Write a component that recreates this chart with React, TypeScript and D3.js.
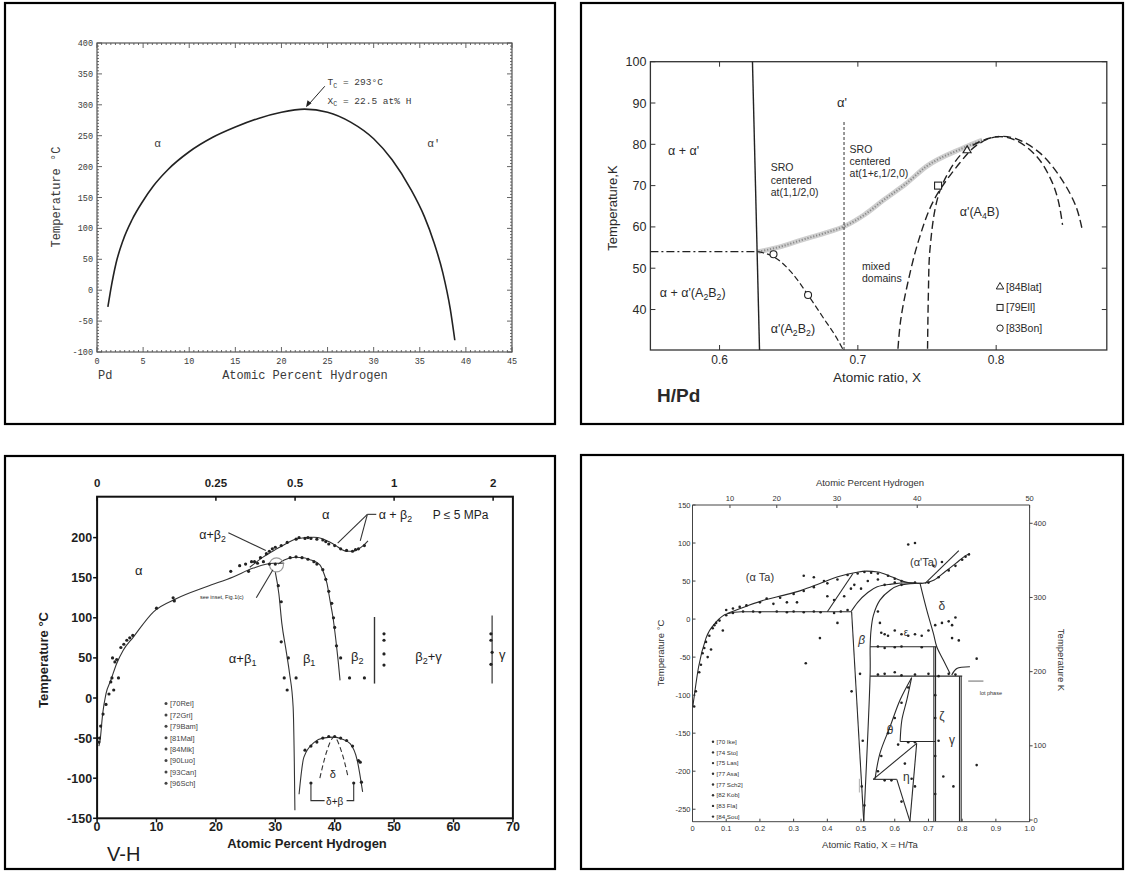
import React from 'react';
import * as d3 from 'd3';

// ---------- panel 1 : Pd-H miscibility gap ----------
const pdGapX = [1.18, 1.48, 2.07, 2.83, 3.8, 4.97, 6.13, 7.68, 10, 12.5, 15, 17.5, 20, 22.5, 25, 27.5, 30, 32, 34, 35.5, 36.5, 37.5, 38.3, 38.8];
const pdGapT = [-27, 0, 44, 81, 114, 144, 169, 195, 224, 247, 264, 278, 288, 293, 288, 272, 245, 211, 164, 119, 79, 28, -30, -81];
const pdXTicks = d3.range(0, 46, 5);
const pdYTicks = d3.range(-100, 401, 50);

// ---------- panel 2 : H/Pd low temperature ----------
const hpdXTicks = [0.6, 0.7, 0.8];
const hpdYTicks = [40, 50, 60, 70, 80, 90, 100];
const sroWallX = [0.6238, 0.6289];
const sroWallT = [100, 30.2];
const a2b2X = [0.628, 0.64, 0.652, 0.664, 0.676, 0.684, 0.689];
const a2b2T = [54, 52.6, 49, 43.5, 37.5, 33.5, 30.5];
const sroBandX = [0.628, 0.645, 0.659, 0.675, 0.69, 0.705, 0.7186, 0.735, 0.7494, 0.7754, 0.79];
const sroBandT = [54, 55.3, 56.8, 58.4, 60.1, 63, 66.5, 70.5, 74.6, 79, 81];
const outerDomeX = [0.729, 0.731, 0.736, 0.744, 0.755, 0.7735, 0.786, 0.7996, 0.814, 0.832, 0.8476, 0.8578, 0.862];
const outerDomeT = [30.5, 37.5, 46.3, 56.8, 66.5, 75.4, 79.8, 81.8, 81.4, 77.8, 71.4, 64.9, 59.7];
const innerDomeX = [0.7504, 0.751, 0.7521, 0.7573, 0.765, 0.778, 0.7996, 0.814, 0.8295, 0.8397, 0.8448, 0.848];
const innerDomeT = [30.5, 44, 54.4, 66.5, 72.9, 78.6, 81.8, 81, 77, 71.4, 66.5, 60.5];
const blatPts = [[0.779, 78.5]];
const ellPts = [[0.758, 70]];
const bonPts = [[0.639, 53.4], [0.664, 43.5]];
const hpdLegend = ['[84Blat]', '[79Ell]', '[83Bon]'];

// ---------- panel 3 : V-H ----------
const vhXTicks = d3.range(0, 71, 10);
const vhYTicks = d3.range(-150, 201, 50);
const vhTopTicks = [0, 20, 33.33, 50, 66.67];
const vhTopLabels = ['0', '0.25', '0.5', '1', '2'];
const vhAlphaX = [0.3, 0.5, 0.94, 1.5, 2.3, 3.3, 4.4, 6.1, 9.5, 13.4, 18.5, 22.9, 26.3, 29.7, 31.5];
const vhAlphaT = [-60, -53, -19.5, 5.5, 22, 43, 59.6, 76, 107.5, 124, 139, 151, 162, 168, 168];
const vhUpperX = [25.7, 28, 30, 32, 33.3, 35, 36.5, 37.8, 39, 40.2, 41.2, 42, 43, 43.8, 44.8, 45.6];
const vhUpperT = [163, 176, 185, 193, 198, 200, 200.5, 199, 195, 190, 185, 183, 183, 185, 190, 196];
const vhBeta1X = [30.5, 31.5, 33.3, 35, 36, 37.5, 38.2, 38.7, 39.2, 39.7, 40.2, 40.6, 40.9];
const vhBeta1T = [167, 172, 175.5, 174.5, 172, 166, 155, 143, 122, 101, 72, 45, 22];
const vhLeftX = [30, 30.6, 31.1, 31.8, 32.4, 33, 33.2, 33.3];
const vhLeftT = [157, 130, 93, 60, 30.5, -11, -80, -140];
const vhDeltaX = [34, 34.8, 36.6, 38, 39.9, 41.2, 42.6, 43.8, 44.7];
const vhDeltaT = [-120, -74, -55, -50, -48.8, -51, -57, -78, -117];
const vhDeltaInX = [37.5, 38.6, 39.9, 41.2, 42.3];
const vhDeltaInT = [-100, -68, -48.8, -68, -100];
const vhDots = [
  [0.3, -55], [0.4, -50], [0.6, -35], [1, -20], [1.5, -8], [2, 5], [2.3, 20], [2.5, 25], [2.6, 50], [3, 45],
  [3.3, 48], [3.6, 25], [2.8, 10], [4, 63], [4.5, 67], [5, 72], [5.5, 75], [6, 78], [10, 112], [12.8, 125],
  [13, 121], [22.5, 158], [24, 165], [25, 167], [25.5, 158], [26, 170], [27, 168], [28, 170], [29, 167], [30, 167],
  [26.5, 170], [27.5, 175], [28.5, 180], [29, 183], [29.5, 186], [30, 188], [31, 190], [32, 194], [33.5, 198], [34, 200],
  [35, 199], [35.5, 200], [36, 199], [37, 198], [38, 197], [38.5, 195], [39, 192], [40, 190], [41, 186], [42, 184],
  [43, 183], [43.5, 185], [44, 186], [45, 190], [32.5, 175], [33.5, 176], [34.5, 175], [35.5, 173], [36.5, 170], [37, 167],
  [38, 160], [38.5, 148], [39, 133], [39.5, 118], [39.8, 100], [40, 88], [40.3, 65], [30.5, 140], [31, 120], [31, 70],
  [31.5, 25], [32, 10], [32.2, 50], [33.5, 25], [41, 50], [42.5, 25], [45, 25], [48.3, 80], [48.3, 72], [48.3, 55],
  [48.3, 41], [66.3, 80], [66.3, 72], [66.5, 57], [66.3, 42], [35, -65], [36, -60], [37, -55], [38, -50], [39, -48],
  [40, -48], [41, -50], [42, -53], [43, -60], [44, -78], [44.3, -80], [44.5, -105], [36, -106], [43.2, -106],
];
const vhLegend = ['[70Rei]', '[72Gri]', '[79Bam]', '[81Mal]', '[84Mik]', '[90Luo]', '[93Can]', '[96Sch]'];

// ---------- panel 4 : Ta-H ----------
const taXTicks = d3.range(0, 1.01, 0.1);
const taCTicks = [150, 100, 50, 0, -50, -100, -150, -200, -250];
const taKTicks = [0, 100, 200, 300, 400];
const taAtTicks = [10, 20, 30, 40, 50];
const taLowX = [0.001, 0.018, 0.04, 0.07, 0.103, 0.145, 0.25, 0.35, 0.47];
const taLowT = [-115, -63, -25, -4, 7, 9.6, 9.6, 9.6, 9.6];
const taUpX = [0.103, 0.166, 0.219, 0.272, 0.325, 0.378, 0.431, 0.484, 0.516, 0.55, 0.59, 0.643, 0.68, 0.717, 0.749, 0.781, 0.813, 0.823];
const taUpT = [7.4, 18, 25.8, 31.5, 38.1, 46.9, 55.6, 61.3, 63, 62, 55.6, 47.8, 46.9, 51.3, 62.2, 73.2, 84.1, 86.3];
const taMidX = [0.47, 0.49, 0.52, 0.548, 0.59, 0.643, 0.68];
const taMidT = [9.6, 22, 35, 42.5, 46, 47.8, 46.9];
const taBetaLX = [0.472, 0.508];
const taBetaLT = [9.6, -266];
const taBetaRX = [0.508, 0.527, 0.527, 0.5295, 0.5366, 0.556, 0.586, 0.616, 0.66];
const taBetaRT = [-266, -71, -36.4, -15, 5, 25, 38, 44.7, 47];
const taDeltaRX = [0.675, 0.695, 0.7146, 0.7246, 0.744, 0.764];
const taDeltaRT = [47, 11.8, -18.8, -36.4, -53.9, -71.4];
const taThetaRX = [0.65, 0.636, 0.621, 0.616];
const taThetaRT = [-77, -106, -133, -161];
const taThetaLX = [0.65, 0.616, 0.586, 0.556, 0.5415];
const taThetaLT = [-77, -106, -141.5, -176.5, -210];
const taLoopX = [0.769, 0.784, 0.823];
const taLoopT = [-73.6, -65, -62.7];
// straight segments [x1, t1, x2, t2]
const taSegments = [
  [0.40, 9.6, 0.476, 60], [0.69, 47, 0.79, 90], [0.527, -36.4, 0.7246, -36.4], [0.527, -75, 0.80, -75],
  [0.716, -36.4, 0.716, -266], [0.721, -36.4, 0.721, -266], [0.792, -75, 0.792, -266], [0.797, -75, 0.797, -266],
  [0.616, -161, 0.7196, -161], [0.536, -210.7, 0.606, -210.7], [0.536, -210.7, 0.665, -163.4],
  [0.665, -163.4, 0.645, -266], [0.606, -210.7, 0.645, -266],
];
const taDots = [
  [0.005, -115], [0.01, -95], [0.02, -70], [0.025, -60], [0.03, -45], [0.035, -38], [0.04, -30], [0.045, -50], [0.05, -22], [0.055, -40],
  [0.06, -12], [0.065, -8], [0.07, -5], [0.08, -2], [0.09, -15], [0.1, 5], [0.12, 8], [0.15, 10], [0.18, 10], [0.2, 9],
  [0.25, 10], [0.28, 9], [0.3, 10], [0.33, 9], [0.36, 10], [0.38, 9], [0.42, 8], [0.44, 10], [0.46, 12],
  [0.1, 12], [0.12, 14], [0.14, 16], [0.16, 18], [0.2, 22], [0.22, 27], [0.26, 28], [0.3, 33], [0.33, 37], [0.36, 42],
  [0.4, 47], [0.43, 52], [0.46, 58], [0.49, 60], [0.51, 62], [0.53, 61], [0.55, 60], [0.58, 57], [0.6, 53], [0.62, 50],
  [0.66, 48], [0.7, 48], [0.73, 55], [0.76, 64], [0.78, 70], [0.8, 78], [0.81, 82], [0.82, 85],
  [0.24, 20], [0.28, 22], [0.31, 22], [0.33, 57], [0.36, 55], [0.39, 50], [0.40, 30], [0.42, 25], [0.45, 30], [0.47, 40],
  [0.48, 45], [0.5, 40], [0.52, 50], [0.55, 52], [0.57, 45], [0.6, 48], [0.62, 45], [0.64, 98], [0.66, 100], [0.715, 70], [0.74, 75],
  [0.336, -58], [0.378, -25], [0.43, -5], [0.472, -95], [0.497, -72], [0.502, -220], [0.505, -160], [0.51, -245],
  [0.556, -5], [0.56, -18], [0.57, -20], [0.58, -22], [0.6, -15], [0.62, -20], [0.64, -22], [0.66, -20], [0.68, -22], [0.7, -15],
  [0.72, -8], [0.74, -5], [0.76, -3], [0.77, -8], [0.77, -25], [0.79, -28], [0.78, 2], [0.55, 10], [0.843, -52],
  [0.55, -36], [0.57, -38], [0.6, -37], [0.62, -36], [0.68, -37], [0.55, -73], [0.57, -72], [0.6, -70], [0.62, -74], [0.66, -73],
  [0.7, -72], [0.73, -75], [0.76, -72], [0.78, -73],
  [0.55, -200], [0.56, -180], [0.58, -150], [0.6, -130], [0.62, -110], [0.64, -90], [0.57, -212], [0.59, -212], [0.61, -165],
  [0.64, -162], [0.66, -162], [0.63, -190], [0.65, -210], [0.62, -240], [0.66, -220],
  [0.744, -207], [0.774, -220], [0.843, -192], [0.72, -100], [0.72, -130], [0.72, -180], [0.72, -230], [0.73, -160],
];
const taLegend = ['[70 Ike]', '[74 Sto]', '[75 Las]', '[77 Asa]', '[77 Sch2]', '[82 Kob]', '[83 Fla]', '[84 Sou]'];

type Sc = d3.ScaleLinear<number, number>;

// build an svg path from paired x / y arrays
function trace(xs: number[], ys: number[], sx: Sc, sy: Sc, curve: d3.CurveFactory = d3.curveLinear) {
  const line = d3.line<number>().x((_, i) => sx(xs[i])).y(d => sy(d)).curve(curve);
  return line(ys) || '';
}

const SANS = '"Liberation Sans", Arial, sans-serif';
const MONO = '"Liberation Mono", "DejaVu Sans Mono", monospace';

// parts starting with "_" are drawn as subscripts
function Rich({ parts, dy = 3 }: { parts: string[]; dy?: number }) {
  let shift = 0;
  return (
    <>
      {parts.map((p, i) => {
        const isSub = p.startsWith('_');
        const d = isSub ? dy - shift : -shift;
        shift = isSub ? dy : 0;
        return (
          <tspan key={i} dy={d || undefined} fontSize={isSub ? '70%' : undefined}>
            {isSub ? p.slice(1) : p}
          </tspan>
        );
      })}
    </>
  );
}

function PdPanel() {
  const x = d3.scaleLinear().domain([0, 45]).range([97, 512]);
  const y = d3.scaleLinear().domain([-100, 400]).range([352, 43]);
  const ink = '#3a3a3a';
  return (
    <g fontFamily={MONO} fill={ink}>
      <rect x={x(0)} y={y(400)} width={x(45) - x(0)} height={y(-100) - y(400)} fill="none" stroke="#555" strokeWidth={1.2} />
      {d3.range(0, 45.01, 0.5).map((v) => {
        const len = v % 5 === 0 ? 5 : 2;
        return (
          <g key={'px' + v} stroke="#555" strokeWidth={0.9}>
            <line x1={x(v)} x2={x(v)} y1={y(-100)} y2={y(-100) - len} />
            <line x1={x(v)} x2={x(v)} y1={y(400)} y2={y(400) + len} />
          </g>
        );
      })}
      {d3.range(-100, 400.01, 5).map((v) => {
        const len = v % 50 === 0 ? 5 : 2;
        return (
          <g key={'py' + v} stroke="#555" strokeWidth={0.9}>
            <line x1={x(0)} x2={x(0) + len} y1={y(v)} y2={y(v)} />
            <line x1={x(45)} x2={x(45) - len} y1={y(v)} y2={y(v)} />
          </g>
        );
      })}
      {pdXTicks.map((v) => (
        <text key={'pxl' + v} x={x(v)} y={y(-100) + 12} fontSize={8.5} textAnchor="middle">{v}</text>
      ))}
      {pdYTicks.map((v) => (
        <text key={'pyl' + v} x={x(0) - 4} y={y(v) + 3} fontSize={8.5} textAnchor="end">{v}</text>
      ))}
      <path d={trace(pdGapX, pdGapT, x, y, d3.curveMonotoneX)} fill="none" stroke="#222" strokeWidth={1.6} />
      <line x1={x(24.7)} y1={y(330)} x2={x(22.8)} y2={y(298)} stroke="#222" strokeWidth={1} />
      <path d={`M${x(22.66)},${y(296)} l1.5,-7 l4,3 z`} fill="#222" />
      <text x={x(25)} y={y(332)} fontSize={9.5}><Rich parts={['T', '_C', ' = 293°C']} dy={2.5} /></text>
      <text x={x(25)} y={y(302)} fontSize={9.5}><Rich parts={['X', '_C', ' = 22.5 at% H']} dy={2.5} /></text>
      <text x={x(6.2)} y={y(232)} fontSize={11}>α</text>
      <text x={x(35.8)} y={y(232)} fontSize={11}>α'</text>
      <text x={98} y={379} fontSize={12}>Pd</text>
      <text x={305} y={379} fontSize={12} textAnchor="middle">Atomic Percent Hydrogen</text>
      <text transform={`translate(60,197) rotate(-90)`} fontSize={12} textAnchor="middle">Temperature °C</text>
    </g>
  );
}

function HPdPanel() {
  const x = d3.scaleLinear().domain([0.55, 0.88]).range([650.4, 1106.8]);
  const y = d3.scaleLinear().domain([30.2, 100]).range([350, 61.7]);
  const ink = '#2a2a2a';
  const x0 = x(0.55), x1 = x(0.88), y0 = y(30.2), y1 = y(100);
  return (
    <g fontFamily={SANS} fill={ink}>
      <rect x={x0} y={y1} width={x1 - x0} height={y0 - y1} fill="none" stroke="#333" strokeWidth={1.3} />
      {hpdXTicks.map((v) => (
        <g key={'hx' + v}>
          <line x1={x(v)} x2={x(v)} y1={y0} y2={y0 - 5} stroke="#333" />
          <line x1={x(v)} x2={x(v)} y1={y1} y2={y1 + 5} stroke="#333" />
          <text x={x(v)} y={y0 + 14} fontSize={12} textAnchor="middle">{v.toFixed(1)}</text>
        </g>
      ))}
      {hpdYTicks.map((v) => (
        <g key={'hy' + v}>
          <line x1={x0} x2={x0 + 5} y1={y(v)} y2={y(v)} stroke="#333" />
          <line x1={x1} x2={x1 - 5} y1={y(v)} y2={y(v)} stroke="#333" />
          <text x={x0 - 4} y={y(v) + 4.5} fontSize={12.5} textAnchor="end">{v}</text>
        </g>
      ))}
      {/* stippled SRO band */}
      <path d={trace(sroBandX, sroBandT, x, y, d3.curveMonotoneX)} fill="none" stroke="#cfcfcf" strokeWidth={5} />
      <path d={trace(sroBandX, sroBandT, x, y, d3.curveMonotoneX)} fill="none" stroke="#8a8a8a" strokeWidth={2} strokeDasharray="1.2,1.8" />
      <path d={trace(sroWallX, sroWallT, x, y)} fill="none" stroke="#222" strokeWidth={1.4} />
      <line x1={x(0.55)} x2={x(0.628)} y1={y(54)} y2={y(54)} stroke="#222" strokeWidth={1.2} strokeDasharray="8,3,2,3" />
      <path d={trace(a2b2X, a2b2T, x, y, d3.curveMonotoneX)} fill="none" stroke="#222" strokeWidth={1.2} strokeDasharray="6,3" />
      <line x1={x(0.69)} x2={x(0.69)} y1={y(30.2)} y2={y(85.5)} stroke="#333" strokeWidth={1} strokeDasharray="3,2" />
      <path d={trace(outerDomeX, outerDomeT, x, y, d3.curveCatmullRom)} fill="none" stroke="#222" strokeWidth={1.4} strokeDasharray="8,4" />
      <path d={trace(innerDomeX, innerDomeT, x, y, d3.curveCatmullRom)} fill="none" stroke="#222" strokeWidth={1.4} strokeDasharray="8,4" />
      {blatPts.map(([px, pt], i) => (
        <path key={'tr' + i} d={d3.symbol(d3.symbolTriangle, 28)() || ''} transform={`translate(${x(px)},${y(pt)})`} fill="#fff" stroke="#222" strokeWidth={1.1} />
      ))}
      {ellPts.map(([px, pt], i) => (
        <rect key={'sq' + i} x={x(px) - 3.5} y={y(pt) - 3.5} width={7} height={7} fill="#fff" stroke="#222" strokeWidth={1.1} />
      ))}
      {bonPts.map(([px, pt], i) => (
        <circle key={'ci' + i} cx={x(px)} cy={y(pt)} r={3.5} fill="#fff" stroke="#222" strokeWidth={1.1} />
      ))}
      <text x={x(0.69) - 2} y={y(90) + 4} fontSize={13} textAnchor="middle">α'</text>
      <text x={x(0.574)} y={y(78.5) + 4} fontSize={12.5} textAnchor="middle">α + α'</text>
      <g fontSize={10.5}>
        <text x={x(0.637)} y={y(73.5)}>SRO</text>
        <text x={x(0.637)} y={y(70.5)}>centered</text>
        <text x={x(0.637)} y={y(67.5)}>at(1,1/2,0)</text>
        <text x={x(0.694)} y={y(77.8)}>SRO</text>
        <text x={x(0.694)} y={y(75)}>centered</text>
        <text x={x(0.694)} y={y(72.2)}>at(1+ε,1/2,0)</text>
        <text x={x(0.703)} y={y(49.5)}>mixed</text>
        <text x={x(0.703)} y={y(46.7)}>domains</text>
      </g>
      <text x={x(0.788)} y={y(63.6) + 4} fontSize={12.5} textAnchor="middle"><Rich parts={["α'(A", '_4', 'B)']} /></text>
      <text x={x(0.5806)} y={y(44.1) + 4} fontSize={12.5} textAnchor="middle"><Rich parts={["α + α'(A", '_2', 'B', '_2', ')']} /></text>
      <text x={x(0.653)} y={y(35.3) + 4} fontSize={12.5} textAnchor="middle"><Rich parts={["α'(A", '_2', 'B', '_2', ')']} /></text>
      {hpdLegend.map((s, i) => {
        const ly = y(45.5 - i * 5);
        const lx = x(0.8028);
        return (
          <g key={s}>
            {i === 0 && <path d={d3.symbol(d3.symbolTriangle, 24)() || ''} transform={`translate(${lx},${ly})`} fill="#fff" stroke="#222" />}
            {i === 1 && <rect x={lx - 3} y={ly - 3} width={6} height={6} fill="#fff" stroke="#222" />}
            {i === 2 && <circle cx={lx} cy={ly} r={3.2} fill="#fff" stroke="#222" />}
            <text x={lx + 6} y={ly + 4} fontSize={10.5}>{s}</text>
          </g>
        );
      })}
      <text x={877} y={382} fontSize={13.5} textAnchor="middle">Atomic ratio, X</text>
      <text x={657} y={402} fontSize={19} fontWeight="bold">H/Pd</text>
      <text transform={`translate(617,208) rotate(-90)`} fontSize={13} textAnchor="middle">Temperature,K</text>
    </g>
  );
}

function VHPanel() {
  const x = d3.scaleLinear().domain([0, 70]).range([97.1, 512.9]);
  const y = d3.scaleLinear().domain([-150, 251]).range([818.3, 496.7]);
  const x0 = x(0), x1 = x(70), y0 = y(-150), y1 = y(251);
  const ink = '#1e1e1e';
  return (
    <g fontFamily={SANS} fill={ink}>
      <rect x={x0} y={y1} width={x1 - x0} height={y0 - y1} fill="none" stroke="#111" strokeWidth={2} />
      {vhXTicks.map((v) => (
        <g key={'vx' + v}>
          <line x1={x(v)} x2={x(v)} y1={y0} y2={y0 + 4} stroke="#111" strokeWidth={1.5} />
          <text x={x(v)} y={y0 + 13} fontSize={12.5} fontWeight="bold" textAnchor="middle">{v}</text>
        </g>
      ))}
      {vhYTicks.map((v) => (
        <g key={'vy' + v}>
          <line x1={x0} x2={x0 - 4} y1={y(v)} y2={y(v)} stroke="#111" strokeWidth={1.5} />
          <text x={x0 - 5} y={y(v) + 4.5} fontSize={12.5} fontWeight="bold" textAnchor="end">{v}</text>
        </g>
      ))}
      {vhTopTicks.map((v, i) => (
        <g key={'vt' + v}>
          <line x1={x(v)} x2={x(v)} y1={y1} y2={y1 + 4} stroke="#111" strokeWidth={1.5} />
          <text x={x(v)} y={y1 - 10} fontSize={11.5} fontWeight="bold" textAnchor="middle">{vhTopLabels[i]}</text>
        </g>
      ))}
      <g fill="none" stroke="#333" strokeWidth={1.1}>
        <path d={trace(vhAlphaX, vhAlphaT, x, y, d3.curveMonotoneX)} />
        <path d={trace(vhUpperX, vhUpperT, x, y, d3.curveMonotoneX)} />
        <path d={trace(vhBeta1X, vhBeta1T, x, y, d3.curveMonotoneX)} />
        <path d={trace(vhLeftX, vhLeftT, x, y, d3.curveMonotoneX)} />
        <path d={trace(vhDeltaX, vhDeltaT, x, y, d3.curveMonotoneX)} />
        <path d={trace(vhDeltaInX, vhDeltaInT, x, y, d3.curveMonotoneX)} strokeDasharray="5,3" />
        <line x1={x(46.7)} x2={x(46.7)} y1={y(18)} y2={y(101)} strokeWidth={1.4} />
        <line x1={x(66.5)} x2={x(66.5)} y1={y(18)} y2={y(103)} strokeWidth={1.2} />
        <circle cx={x(30.2)} cy={y(166)} r={7} stroke="#999" />
        <line x1={x(26.8)} y1={y(125)} x2={x(29.6)} y2={y(160)} />
        <line x1={x(22.1)} y1={y(206)} x2={x(28.4)} y2={y(184)} />
        <line x1={x(45.5)} y1={y(229)} x2={x(40.5)} y2={y(193)} />
        <line x1={x(45.5)} y1={y(229)} x2={x(44.3)} y2={y(196)} />
        <line x1={x(45.5)} y1={y(229)} x2={x(47)} y2={y(229)} />
        <path d={`M${x(36)},${y(-106)} V${y(-128)} H${x(43.2)} V${y(-106)}`} />
      </g>
      {vhDots.map(([px, pt], i) => (
        <circle key={'vd' + i} cx={x(px)} cy={y(pt)} r={1.6} fill="#222" />
      ))}
      <rect x={x(38.3)} y={y(-122)} width={x(42) - x(38.3)} height={11} fill="#fff" />
      <text x={x(40)} y={y(-128) + 4} fontSize={10} textAnchor="middle">δ+β</text>
      <text x={x(39.7)} y={y(-95) + 4} fontSize={11} textAnchor="middle">δ</text>
      <text x={x(38.5)} y={y(229) + 5} fontSize={13} textAnchor="middle">α</text>
      <text x={x(7)} y={y(160) + 5} fontSize={13} textAnchor="middle">α</text>
      <text x={x(47.4)} y={y(229) + 5} fontSize={12.5}><Rich parts={['α + β', '_2']} /></text>
      <text x={x(61.2)} y={y(229) + 5} fontSize={12} textAnchor="middle">P ≤ 5 MPa</text>
      <text x={x(17.2)} y={y(205) + 5} fontSize={12.5}><Rich parts={['α+β', '_2']} /></text>
      <text x={x(21)} y={y(126) + 2} fontSize={5.5} textAnchor="middle">see inset, Fig.1(c)</text>
      <text x={x(24.5)} y={y(50) + 5} fontSize={13} textAnchor="middle"><Rich parts={['α+β', '_1']} /></text>
      <text x={x(35.7)} y={y(50) + 5} fontSize={13} textAnchor="middle"><Rich parts={['β', '_1']} /></text>
      <text x={x(43.8)} y={y(52) + 5} fontSize={13} textAnchor="middle"><Rich parts={['β', '_2']} /></text>
      <text x={x(55.8)} y={y(52) + 5} fontSize={13} textAnchor="middle"><Rich parts={['β', '_2', '+γ']} /></text>
      <text x={x(68.2)} y={y(55) + 5} fontSize={13} textAnchor="middle">γ</text>
      {vhLegend.map((s, i) => {
        const ly = 703.5 + i * 11.4;
        return (
          <g key={s}>
            <circle cx={166} cy={ly} r={1.5} fill="#444" />
            <text x={170} y={ly + 2.8} fontSize={7.5} fill="#444">{s}</text>
          </g>
        );
      })}
      <text x={307} y={848} fontSize={13} fontWeight="bold" textAnchor="middle">Atomic Percent Hydrogen</text>
      <text x={107} y={861} fontSize={20}>V-H</text>
      <text transform={`translate(48,660) rotate(-90)`} fontSize={13} fontWeight="bold" textAnchor="middle">Temperature °C</text>
    </g>
  );
}

function TaPanel() {
  const x = d3.scaleLinear().domain([0, 1]).range([692.5, 1029.6]);
  const y = d3.scaleLinear().domain([-266.4, 150]).range([821.7, 505]);
  const yK = d3.scaleLinear().domain([0, 400]).range([820, 523.3]);
  const x0 = x(0), x1 = x(1), y0 = y(-266.4), y1 = y(150);
  const ink = '#333';
  const atToX = (p: number) => p / (100 - p);
  return (
    <g fontFamily={SANS} fill={ink}>
      <g stroke="#444" strokeWidth={1}>
        <line x1={x0} x2={x0} y1={y1} y2={y0} />
        <line x1={x0} x2={x1} y1={y0} y2={y0} />
        <line x1={x1} x2={x1} y1={y1} y2={y0} />
        <line x1={x0} x2={x1} y1={y1} y2={y1} />
      </g>
      {taXTicks.map((v) => (
        <g key={'tx' + v}>
          <line x1={x(v)} x2={x(v)} y1={y0} y2={y0 - 3} stroke="#444" />
          <text x={x(v)} y={y0 + 9} fontSize={7.5} textAnchor="middle">{v === 0 ? '0' : v.toFixed(1)}</text>
        </g>
      ))}
      {taCTicks.map((v) => (
        <g key={'ty' + v}>
          <line x1={x0} x2={x0 + 3} y1={y(v)} y2={y(v)} stroke="#444" />
          <text x={x0 - 2} y={y(v) + 2.5} fontSize={7.5} textAnchor="end">{v}</text>
        </g>
      ))}
      {taKTicks.map((v) => (
        <g key={'tk' + v}>
          <line x1={x1} x2={x1 + 3} y1={yK(v)} y2={yK(v)} stroke="#444" />
          <text x={x1 + 4} y={yK(v) + 2.5} fontSize={7.5}>{v}</text>
        </g>
      ))}
      {taAtTicks.map((v) => (
        <g key={'ta' + v}>
          <line x1={x(atToX(v))} x2={x(atToX(v))} y1={y1} y2={y1 + 3} stroke="#444" />
          <text x={x(atToX(v))} y={y1 - 4} fontSize={7.5} textAnchor="middle">{v}</text>
        </g>
      ))}
      <g fill="none" stroke="#2a2a2a" strokeWidth={1.1}>
        <path d={trace(taLowX, taLowT, x, y, d3.curveMonotoneX)} />
        <path d={trace(taUpX, taUpT, x, y, d3.curveMonotoneX)} />
        <path d={trace(taMidX, taMidT, x, y, d3.curveMonotoneX)} />
        <path d={trace(taBetaLX, taBetaLT, x, y)} />
        <path d={trace(taBetaRX, taBetaRT, x, y, d3.curveCatmullRom)} />
        <path d={trace(taDeltaRX, taDeltaRT, x, y, d3.curveCatmullRom)} />
        <path d={trace(taThetaRX, taThetaRT, x, y, d3.curveCatmullRom)} />
        <path d={trace(taThetaLX, taThetaLT, x, y, d3.curveCatmullRom)} />
        <path d={trace(taLoopX, taLoopT, x, y, d3.curveCatmullRom)} />
        {taSegments.map(([a, b, c, d], i) => (
          <line key={'sg' + i} x1={x(a)} y1={y(b)} x2={x(c)} y2={y(d)} />
        ))}
        <line x1={x(0.818)} x2={x(0.863)} y1={y(-81.5)} y2={y(-81.5)} stroke="#777" />
        <line x1={x(0.495)} x2={x(0.495)} y1={y(-210)} y2={y(-228)} stroke="#999" strokeWidth={0.8} />
      </g>
      {taDots.map(([px, pt], i) => (
        <circle key={'td' + i} cx={x(px)} cy={y(pt)} r={1.3} fill="#222" />
      ))}
      <text x={x(0.2)} y={y(55) + 4} fontSize={11} textAnchor="middle">(α Ta)</text>
      <text x={x(0.686)} y={y(75) + 4} fontSize={11} textAnchor="middle">(α'Ta)</text>
      <text x={x(0.74)} y={y(17) + 4} fontSize={12} textAnchor="middle">δ</text>
      <text x={x(0.633)} y={y(-17) + 4} fontSize={10} textAnchor="middle">ε</text>
      <text x={x(0.502)} y={y(-28) + 4} fontSize={12} fontStyle="italic" textAnchor="middle">β</text>
      <text x={x(0.586)} y={y(-146) + 4} fontSize={12} textAnchor="middle">θ</text>
      <text x={x(0.74)} y={y(-128) + 4} fontSize={12} textAnchor="middle">ζ</text>
      <text x={x(0.77)} y={y(-159) + 4} fontSize={12} textAnchor="middle">γ</text>
      <text x={x(0.634)} y={y(-207) + 4} fontSize={12} textAnchor="middle">η</text>
      <text x={x(0.885)} y={y(-97) + 2} fontSize={5.5} textAnchor="middle">lot phase</text>
      {taLegend.map((s, i) => {
        const ly = 741.7 + i * 10.7;
        return (
          <g key={s}>
            <circle cx={713} cy={ly} r={1.2} fill="#333" />
            <text x={716.5} y={ly + 2.2} fontSize={6.2}>{s}</text>
          </g>
        );
      })}
      <text x={870} y={486} fontSize={9.5} textAnchor="middle">Atomic  Percent  Hydrogen</text>
      <text x={870} y={848} fontSize={9.5} textAnchor="middle">Atomic  Ratio, X = H/Ta</text>
      <text transform={`translate(664,653) rotate(-90)`} fontSize={9.5} textAnchor="middle">Temperature  °C</text>
      <text transform={`translate(1058,660) rotate(90)`} fontSize={9.5} textAnchor="middle">Temperature  K</text>
    </g>
  );
}

export default function App() {
  const frames = [
    [5, 3, 555, 424],
    [581, 3, 1123, 424],
    [5, 456, 555, 869],
    [581, 455, 1123, 869],
  ];
  return (
    <svg width={1128} height={872} style={{ position: 'absolute', left: 0, top: 0, background: '#fff' }}>
      <rect width={1128} height={872} fill="#fff" />
      {frames.map(([a, b, c, d], i) => (
        <rect key={'fr' + i} x={a} y={b} width={c - a} height={d - b} fill="none" stroke="#000" strokeWidth={2.2} />
      ))}
      <PdPanel />
      <HPdPanel />
      <VHPanel />
      <TaPanel />
    </svg>
  );
}
